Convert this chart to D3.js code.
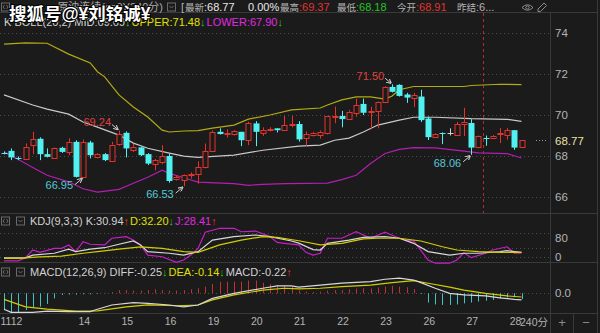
<!DOCTYPE html>
<html>
<head>
<meta charset="utf-8">
<script src="https://cdn.jsdelivr.net/npm/d3@7"></script>
<style>
  html, body { margin: 0; padding: 0; background: #1b1b1b; }
  svg { display: block; }
  text { font-family: "Liberation Sans", Arial, "Noto Sans CJK SC", sans-serif; }
</style>
</head>
<body>
<svg id="chart" width="600" height="333"></svg>
<script>
// 240-minute session chart, one candle per 40 minutes
const opens  = [68.16,68.25,67.90,67.88,68.50,68.84,68.09,67.93,68.40,68.20,68.69,66.98,68.66,67.93,68.09,67.80,68.58,69.13,68.32,68.42,
                68.09,67.60,67.71,68.00,66.88,66.81,67.05,67.10,67.44,68.24,69.18,69.10,69.07,69.18,68.77,69.59,69.13,69.28,69.35,69.26,
                69.52,69.56,68.89,69.05,69.05,69.13,69.94,69.95,69.80,70.11,70.54,70.12,70.16,70.64,71.37,71.47,71.00,70.85,70.90,69.83,
                68.92,69.12,69.10,69.02,69.56,69.61,68.41,68.90,68.86,69.06,69.02,69.26,68.43];
const highs  = [68.22,68.37,67.98,68.61,69.18,68.91,68.37,68.42,68.45,68.86,68.77,68.80,68.74,68.14,68.14,68.69,69.24,69.20,68.60,68.45,
                68.14,67.85,68.53,68.10,67.05,67.10,67.20,67.74,68.61,69.25,69.35,69.30,69.26,69.18,69.67,69.70,69.40,69.40,69.35,69.95,
                69.95,69.70,69.20,69.18,69.25,69.95,70.41,70.20,70.25,70.80,70.80,70.40,70.65,71.40,71.50,71.50,71.08,71.08,71.23,69.92,
                69.10,69.15,69.35,69.66,70.35,69.80,69.00,69.00,69.02,69.36,69.36,69.26,68.78];
const lows   = [68.08,67.80,67.80,67.80,68.09,67.80,67.93,67.92,68.15,68.04,66.95,66.95,67.88,67.88,67.75,67.77,68.50,67.93,68.20,68.00,
                67.56,67.30,67.60,66.70,66.80,66.53,66.90,66.65,67.40,68.20,69.05,68.90,69.00,68.48,68.53,68.48,68.98,69.20,69.15,69.26,
                69.40,68.70,68.50,68.95,68.85,69.05,69.60,69.40,69.75,69.92,70.00,69.30,69.35,70.60,71.10,70.90,70.59,70.39,69.66,68.78,
                68.90,68.58,69.00,68.97,68.97,68.06,68.38,68.50,68.82,68.63,68.80,68.30,68.41];
const closes = [68.14,67.93,67.88,68.45,68.81,68.09,67.96,68.40,68.20,68.69,66.98,68.69,68.04,68.09,67.80,68.56,69.07,68.37,68.45,68.04,
                67.63,67.80,68.00,66.78,66.96,67.06,67.10,67.44,68.24,69.18,69.07,69.13,69.21,68.77,69.59,69.18,69.26,69.30,69.26,69.51,
                69.54,68.81,69.07,69.13,69.18,69.95,69.96,69.80,70.16,70.49,70.11,70.18,70.62,71.37,71.13,70.93,70.85,70.98,69.75,68.92,
                69.07,69.10,69.10,69.56,69.66,68.41,68.97,68.86,68.97,69.10,69.26,68.41,68.77];

const dayLabels = ["11","12","14","15","16","19","20","21","22","23","26","27","28"];
const dayIndex  = [0, 1, 10, 16, 22, 28, 34, 40, 46, 52, 58, 64, 70];

const priceTicks = [66, 68, 70, 72, 74];
const lastPrice = 68.77;
const cursorIndex = 66.6;

// BOLL(20,2), read at selected candles as [index, value]
const bollUpper = [[0,73.46],[3,73.52],[6,73.50],[9,72.97],[12,72.54],[13,72.11],[14,71.86],[16,70.98],[18,70.39],[20,69.90],
                   [22,69.26],[23,69.17],[25,69.22],[27,69.24],[29,69.36],[32,69.51],[34,69.80],[37,70.00],[40,70.25],[44,70.34],
                   [45,70.49],[47,70.74],[49,70.88],[51,70.88],[53,70.78],[54,70.93],[55,71.23],[57,71.39],[64,71.39],[65,71.44],
                   [69,71.50],[72,71.48]];
const bollMid   = [[0,70.98],[4,70.49],[6,70.29],[9,70.04],[11,69.66],[13,69.41],[16,69.02],[18,68.63],[20,68.38],[23,68.14],
                   [25,67.99],[27,67.93],[32,68.04],[36,68.28],[41,68.48],[44,68.53],[46,68.77],[48,68.87],[50,69.17],[52,69.51],
                   [55,69.75],[57,69.89],[60,69.89],[65,69.82],[70,69.79],[72,69.69]];
const bollLower = [[0,68.20],[2,67.83],[4,67.44],[6,67.06],[9,66.74],[11,66.40],[13,66.24],[16,66.37],[18,66.67],[20,66.96],
                   [22,67.31],[23,67.15],[25,66.94],[27,66.73],[32,66.65],[34,66.57],[36,66.62],[39,66.65],[45,66.68],[47,66.85],
                   [49,67.06],[51,67.63],[53,68.12],[55,68.32],[57,68.41],[60,68.40],[64,68.24],[66,68.15],[70,68.12],[72,67.90]];

// KDJ(9,3,3)
const kdjK = [[0,-6],[3,-6],[4,6],[7,14],[9,32],[10,21],[12,32],[14,38],[16,53],[18,67],[19,50],[20,21],[23,14],[25,6],
              [27,21],[29,71],[32,86],[35,93],[37,86],[40,67],[41,58],[43,30],[44,28],[45,57],[48,71],[50,83],[53,86],
              [55,79],[57,57],[59,21],[62,6],[64,14],[66,14],[69,21],[70,25],[72,18]];
const kdjD = [[0,-8],[2,-8],[5,-2],[8,2],[11,14],[13,21],[16,32],[19,42],[22,35],[25,21],[27,18],[30,50],[33,71],[36,86],
              [38,83],[41,68],[44,50],[47,57],[50,76],[52,79],[55,79],[58,67],[61,42],[63,28],[66,21],[69,18],[72,18]];
const kdjJ = [[0,-19],[2,-19],[3,-5],[4,28],[5,18],[7,35],[8,35],[9,50],[10,21],[11,64],[12,53],[14,50],[15,79],[17,86],
              [18,71],[19,50],[20,6],[22,-1],[24,-25],[25,-15],[26,6],[27,35],[28,105],[30,122],[32,122],[33,107],[35,110],
              [37,86],[38,61],[39,57],[41,50],[42,18],[43,6],[44,14],[45,79],[47,79],[49,107],[51,79],[53,105],[55,79],
              [56,71],[57,67],[59,-15],[60,-29],[62,-29],[63,-15],[64,16],[65,-5],[67,14],[68,28],[70,42],[71,14],[72,14]];

// MACD(12,26,9)
const macdDiff = [[0,-0.60],[1,-0.72],[4,-0.72],[6,-0.67],[9,-0.69],[12,-0.69],[13,-0.60],[15,-0.44],[18,-0.35],[20,-0.38],
                  [23,-0.44],[25,-0.51],[27,-0.44],[29,-0.19],[32,0],[36,0.19],[38,0.28],[40,0.28],[41,0.23],[44,0.31],
                  [47,0.38],[51,0.44],[53,0.53],[55,0.57],[57,0.50],[58,0.40],[60,0.19],[62,0],[64,-0.06],[67,-0.10],
                  [69,-0.17],[71,-0.23],[72,-0.25]];
const macdDea  = [[0,-0.23],[3,-0.51],[6,-0.60],[10,-0.67],[13,-0.66],[17,-0.51],[20,-0.44],[24,-0.47],[27,-0.44],[29,-0.25],
                  [32,-0.06],[36,0.12],[39,0.19],[41,0.17],[44,0.19],[47,0.25],[51,0.31],[54,0.40],[57,0.48],[59,0.38],
                  [62,0.23],[64,0.12],[67,0],[70,-0.10],[72,-0.14]];
const macdHist = [-0.63,-0.75,-0.73,-0.63,-0.54,-0.50,-0.40,-0.19,-0.06,-0.05,-0.05,-0.04,-0.04,-0.02,
                  0.02,0.05,0.12,0.12,0.10,0.10,0.12,0.15,0.12,0.10,0.10,0.12,0.15,0.19,0.25,0.35,0.43,0.44,0.44,0.44,
                  0.48,0.48,0.40,0.35,0.31,0.28,0.25,0.10,
                  0.06,0.05,0.06,0.10,0.12,0.12,0.15,0.18,0.19,0.18,0.22,0.25,0.28,0.25,0.23,0.16,
                  -0.03,-0.35,-0.42,-0.44,-0.44,-0.42,-0.38,-0.35,-0.31,-0.28,-0.25,-0.19,-0.16,-0.15,-0.22];

// marked extremes
const marks = [
  { idx: 16, value: 69.24, kind: "high" },
  { idx: 54, value: 71.50, kind: "high" },
  { idx: 11, value: 66.95, kind: "low" },
  { idx: 25, value: 66.53, kind: "low" },
  { idx: 65, value: 68.06, kind: "low" }
];

const COL = {
  bg: "#1b1b1b", frame: "#3a3a3a", grid: "#4c4c4c", label: "#b4b4b4", text: "#d2d2d2",
  red: "#e5322d", cyan: "#52f0f0", green: "#22c522", yellow: "#e0e000", magenta: "#e02ae0",
  upper: "#b3aa14", mid: "#c8c8c8", lower: "#b21eb2",
  kLine: "#d8d8d8", dLine: "#d2cc00", jLine: "#c81ec8",
  histRed: "#c43030", histCyan: "#3cc6cc", markRed: "#e04040", markCyan: "#55c8d8"
};

const svg = d3.select("#chart");
const axisX = 550;

const xs = d3.scaleLinear().domain([0, 72]).range([4, 521.5]);
const yMain = d3.scaleLinear().domain([66, 74]).range([197, 33]);
const yKdj = d3.scaleLinear().domain([0, 80]).range([256.5, 238]);
const yMacd = d3.scaleLinear().domain([-0.75, 0.75]).range([313.2, 273.4]);

svg.append("rect").attr("width", 600).attr("height", 333).attr("fill", COL.bg);

// ---- frame lines ----
const frame = svg.append("g").attr("stroke", COL.frame).attr("stroke-width", 1);
[12.5, 213.5, 262.5, 313.5].forEach(y => {
  frame.append("line").attr("x1", 0).attr("x2", 598).attr("y1", y).attr("y2", y);
});
frame.append("line").attr("x1", axisX + 0.5).attr("x2", axisX + 0.5).attr("y1", 12).attr("y2", 333);
frame.append("line").attr("x1", 597.5).attr("x2", 597.5).attr("y1", 0).attr("y2", 333);
frame.append("line").attr("x1", 573.5).attr("x2", 573.5).attr("y1", 313).attr("y2", 333);

// ---- dotted grids ----
const grid = svg.append("g").attr("stroke", COL.grid).attr("stroke-dasharray", "1,3");
priceTicks.forEach(p => {
  const y = Math.round(yMain(p)) + 0.5;
  grid.append("line").attr("x1", 0).attr("x2", axisX).attr("y1", y).attr("y2", y);
});
[100, 35, 0].forEach(v => {
  const y = Math.round(yKdj(v)) + 0.5;
  grid.append("line").attr("x1", 0).attr("x2", axisX).attr("y1", y).attr("y2", y);
});
grid.append("line").attr("x1", 0).attr("x2", axisX)
  .attr("y1", Math.round(yMacd(0)) + 0.5).attr("y2", Math.round(yMacd(0)) + 0.5);

// cursor line
svg.append("line")
  .attr("x1", Math.round(xs(cursorIndex)) + 0.5).attr("x2", Math.round(xs(cursorIndex)) + 0.5)
  .attr("y1", 13).attr("y2", 213)
  .attr("stroke", "#b82a2a").attr("stroke-dasharray", "3,3");

// ---- right axes ----
function styleAxis(g) {
  g.select(".domain").remove();
  g.selectAll("text").attr("fill", COL.label).attr("font-size", 11.5)
    .attr("font-family", "'Liberation Sans', Arial, sans-serif");
}
svg.append("g").attr("transform", `translate(${axisX},0)`)
  .call(d3.axisRight(yMain).tickValues(priceTicks).tickSize(0).tickPadding(5))
  .call(styleAxis);
svg.append("g").attr("transform", `translate(${axisX},0)`)
  .call(d3.axisRight(yKdj).tickValues([80, 0]).tickSize(0).tickPadding(5))
  .call(styleAxis);
svg.append("g").attr("transform", `translate(${axisX},0)`)
  .call(d3.axisRight(yMacd).tickValues([0]).tickFormat(d3.format(".1f")).tickSize(0).tickPadding(5))
  .call(styleAxis);

// last price tag
const yLast = Math.round(yMain(lastPrice)) + 0.5;
svg.append("line").attr("x1", 536).attr("x2", 548).attr("y1", yLast).attr("y2", yLast)
  .attr("stroke", "#9a9a9a").attr("stroke-dasharray", "1,2");
svg.append("text").attr("x", axisX + 5).attr("y", yLast).attr("dy", "0.35em")
  .attr("fill", "#e6e0a8").attr("font-size", 11.5).text(lastPrice.toFixed(2));

// ---- x axis (day labels) ----
const xAxisG = svg.append("g").attr("transform", "translate(0,313)")
  .call(d3.axisBottom(xs).tickValues(dayIndex).tickSize(0).tickPadding(0)
    .tickFormat((d, i) => dayLabels[i]));
xAxisG.select(".domain").remove();
xAxisG.selectAll("text")
  .attr("text-anchor", "start")
  .attr("fill", COL.label).attr("font-size", 10.5)
  .attr("dy", "1.15em")
  .attr("x", (d, i) => (i === 0 ? -xs(d) : i === 1 ? -1 : 2));

svg.append("text").attr("x", 520).attr("y", 326).attr("fill", COL.label).attr("font-size", 10.5)
  .text("240分");
svg.append("text").attr("x", 562).attr("y", 327).attr("text-anchor", "middle")
  .attr("fill", "#8a8a8a").attr("font-size", 13).text("+");
svg.append("text").attr("x", 586).attr("y", 327).attr("text-anchor", "middle")
  .attr("fill", "#8a8a8a").attr("font-size", 13).text("−");

// ---- BOLL lines ----
const mainLine = d3.line().x(d => xs(d[0])).y(d => yMain(d[1]));
[[bollUpper, COL.upper], [bollMid, COL.mid], [bollLower, COL.lower]].forEach(([data, c]) => {
  svg.append("path").datum(data).attr("d", mainLine)
    .attr("fill", "none").attr("stroke", c).attr("stroke-width", 1.2);
});

// ---- candles ----
const candles = d3.range(opens.length).map(i => ({
  i, o: opens[i], h: highs[i], l: lows[i], c: closes[i]
}));
const cg = svg.append("g");
candles.forEach(d => {
  const cx = Math.round(xs(d.i)) + 0.5;
  const up = d.c > d.o, flat = d.c === d.o;
  const color = flat ? "#cfcfcf" : (up ? COL.red : COL.cyan);
  const yTop = yMain(Math.max(d.o, d.c)), yBot = yMain(Math.min(d.o, d.c));
  const bh = yBot - yTop;
  if (up) {
    cg.append("line").attr("x1", cx).attr("x2", cx).attr("y1", yMain(d.h)).attr("y2", yTop).attr("stroke", color);
    cg.append("line").attr("x1", cx).attr("x2", cx).attr("y1", yBot).attr("y2", yMain(d.l)).attr("stroke", color);
    cg.append("rect").attr("x", cx - 2.5).attr("y", Math.round(yTop) + 0.5)
      .attr("width", 5).attr("height", Math.max(1, Math.round(bh)))
      .attr("fill", COL.bg).attr("stroke", color);
  } else {
    cg.append("line").attr("x1", cx).attr("x2", cx).attr("y1", yMain(d.h)).attr("y2", yMain(d.l)).attr("stroke", color);
    if (bh < 1.5) {
      const y = Math.round(yTop) + 0.5;
      cg.append("line").attr("x1", cx - 3).attr("x2", cx + 3).attr("y1", y).attr("y2", y).attr("stroke", color);
    } else {
      cg.append("rect").attr("x", cx - 3).attr("y", yTop).attr("width", 6).attr("height", bh).attr("fill", color);
    }
  }
});

// ---- extreme marks ----
const defs = svg.append("defs");
defs.append("marker").attr("id", "arr").attr("viewBox", "0 0 6 6").attr("refX", 5.5).attr("refY", 3)
  .attr("markerWidth", 5).attr("markerHeight", 5).attr("orient", "auto")
  .append("path").attr("d", "M0,0 L6,3 L0,6").attr("fill", "none").attr("stroke", "#d0d0d0").attr("stroke-width", 1.2);
marks.forEach(m => {
  const px = xs(m.idx), py = yMain(m.value);
  const hi = m.kind === "high";
  const tx = hi ? px - 8 : px - 10, ty = hi ? py - 8 : py + 8;
  svg.append("line")
    .attr("x1", hi ? px - 7 : px - 8).attr("y1", hi ? py - 6 : py + 7)
    .attr("x2", px - 1).attr("y2", hi ? py - 1 : py + 1)
    .attr("stroke", "#d0d0d0").attr("stroke-width", 1).attr("marker-end", "url(#arr)");
  svg.append("text").attr("x", tx).attr("y", ty).attr("dy", "0.35em").attr("text-anchor", "end")
    .attr("fill", hi ? COL.markRed : COL.markCyan).attr("font-size", 11).text(m.value.toFixed(2));
});

// ---- KDJ ----
const kdjLine = d3.line().x(d => xs(d[0])).y(d => yKdj(d[1]));
[[kdjJ, COL.jLine], [kdjK, COL.kLine], [kdjD, COL.dLine]].forEach(([data, c]) => {
  svg.append("path").datum(data).attr("d", kdjLine)
    .attr("fill", "none").attr("stroke", c).attr("stroke-width", 1.2);
});

// ---- MACD ----
const y0 = yMacd(0);
svg.append("g").selectAll("line").data(macdHist).join("line")
  .attr("x1", (d, i) => Math.round(xs(i)) + 0.5).attr("x2", (d, i) => Math.round(xs(i)) + 0.5)
  .attr("y1", y0).attr("y2", d => yMacd(d))
  .attr("stroke", d => (d >= 0 ? COL.histRed : COL.histCyan)).attr("stroke-width", 1);
const macdLine = d3.line().x(d => xs(d[0])).y(d => yMacd(d[1]));
[[macdDea, COL.dLine], [macdDiff, COL.kLine]].forEach(([data, c]) => {
  svg.append("path").datum(data).attr("d", macdLine)
    .attr("fill", "none").attr("stroke", c).attr("stroke-width", 1.2);
});

// ---- headers ----
function textRun(x, y, parts, size) {
  let cx = x;
  parts.forEach(p => {
    const t = svg.append("text").attr("x", cx).attr("y", y).attr("fill", p.c)
      .attr("font-size", size).text(p.t);
    cx += t.node().getComputedTextLength() + (p.gap || 0);
  });
}
function iconBoxes(y, x2) {
  const g = svg.append("g").attr("stroke", "#6a6a6a").attr("fill", "none");
  g.append("rect").attr("x", 1.5).attr("y", y + 0.5).attr("width", 8).attr("height", 8);
  g.append("path").attr("d", `M4.5,${y + 2.5} L3,${y + 4.5} L4.5,${y + 6.5} M6.5,${y + 2.5} L8,${y + 4.5} L6.5,${y + 6.5}`);
  g.append("rect").attr("x", x2 + 0.5).attr("y", y + 0.5).attr("width", 8).attr("height", 8);
  g.append("path").attr("d", `M${x2 + 2.5},${y + 3.5} L${x2 + 4.5},${y + 5.5} L${x2 + 6.5},${y + 3.5}`);
}

// row 1
iconBoxes(2.5, 167);
svg.append("text").attr("x", 163).attr("y", 11).attr("text-anchor", "end")
  .attr("fill", "#a8a8a8").attr("font-size", 11).text("原油连续(cn0)(240分)");
[
  [181, "[", COL.label], [185, "最新", COL.label], [204, ":68.77", "#e8e8e8"], [248, "0.00%", "#e8e8e8"],
  [280, "最高", COL.label], [299, ":69.37", COL.red], [337, "最低", COL.label], [356, ":68.18", COL.green],
  [397, "今开", COL.label], [416, ":68.91", COL.red], [457, "昨结", COL.label], [476, ":6...", COL.label]
].forEach(([x, t, c]) => {
  svg.append("text").attr("x", x).attr("y", 11).attr("fill", c)
    .attr("font-size", /[\u4e00-\u9fff]/.test(t) ? 9.5 : 11).text(t);
});
// eye + pencil
const ic = svg.append("g").attr("stroke", "#8c8c8c").attr("fill", "none").attr("stroke-width", 1);
ic.append("path").attr("d", "M522,7.5 Q527.5,2 533,7.5 Q527.5,13 522,7.5 Z");
ic.append("circle").attr("cx", 527.5).attr("cy", 7.5).attr("r", 1.6);
ic.append("path").attr("d", "M538,11.5 L538,9 L544,3 L546.5,5.5 L540.5,11.5 Z");

// row 2 (BOLL)
textRun(4, 25.5, [
  { t: "K BOLL(20,2) MID:69.69", c: COL.text },
  { t: "↓", c: COL.green, gap: 1 },
  { t: "UPPER:71.48", c: COL.yellow },
  { t: "↓", c: COL.green, gap: 1 },
  { t: "LOWER:67.90", c: COL.magenta },
  { t: "↓", c: COL.green }
], 11);

// KDJ header
iconBoxes(216.5, 16);
textRun(30, 225, [
  { t: "KDJ(9,3,3) K:30.94", c: COL.text },
  { t: "↑", c: COL.red, gap: 1 },
  { t: "D:32.20", c: COL.yellow },
  { t: "↓", c: COL.green, gap: 1 },
  { t: "J:28.41", c: COL.magenta },
  { t: "↑", c: COL.red }
], 11);

// MACD header
iconBoxes(267.5, 16);
textRun(30, 276, [
  { t: "MACD(12,26,9) DIFF:-0.25", c: COL.text },
  { t: "↓", c: COL.green, gap: 1 },
  { t: "DEA:-0.14", c: COL.yellow },
  { t: "↓", c: COL.green, gap: 1 },
  { t: "MACD:-0.22", c: COL.text },
  { t: "↑", c: COL.red }
], 11);

// watermark
svg.append("text").attr("x", 9).attr("y", 19.5)
  .attr("font-family", "'Noto Sans CJK SC', sans-serif").attr("font-size", 17.5).attr("font-weight", 700)
  .attr("fill", "#ffffff").attr("stroke", "#000000").attr("stroke-width", 2).attr("paint-order", "stroke")
  .text("搜狐号@¥刘铭诚¥");
</script>
</body>
</html>
